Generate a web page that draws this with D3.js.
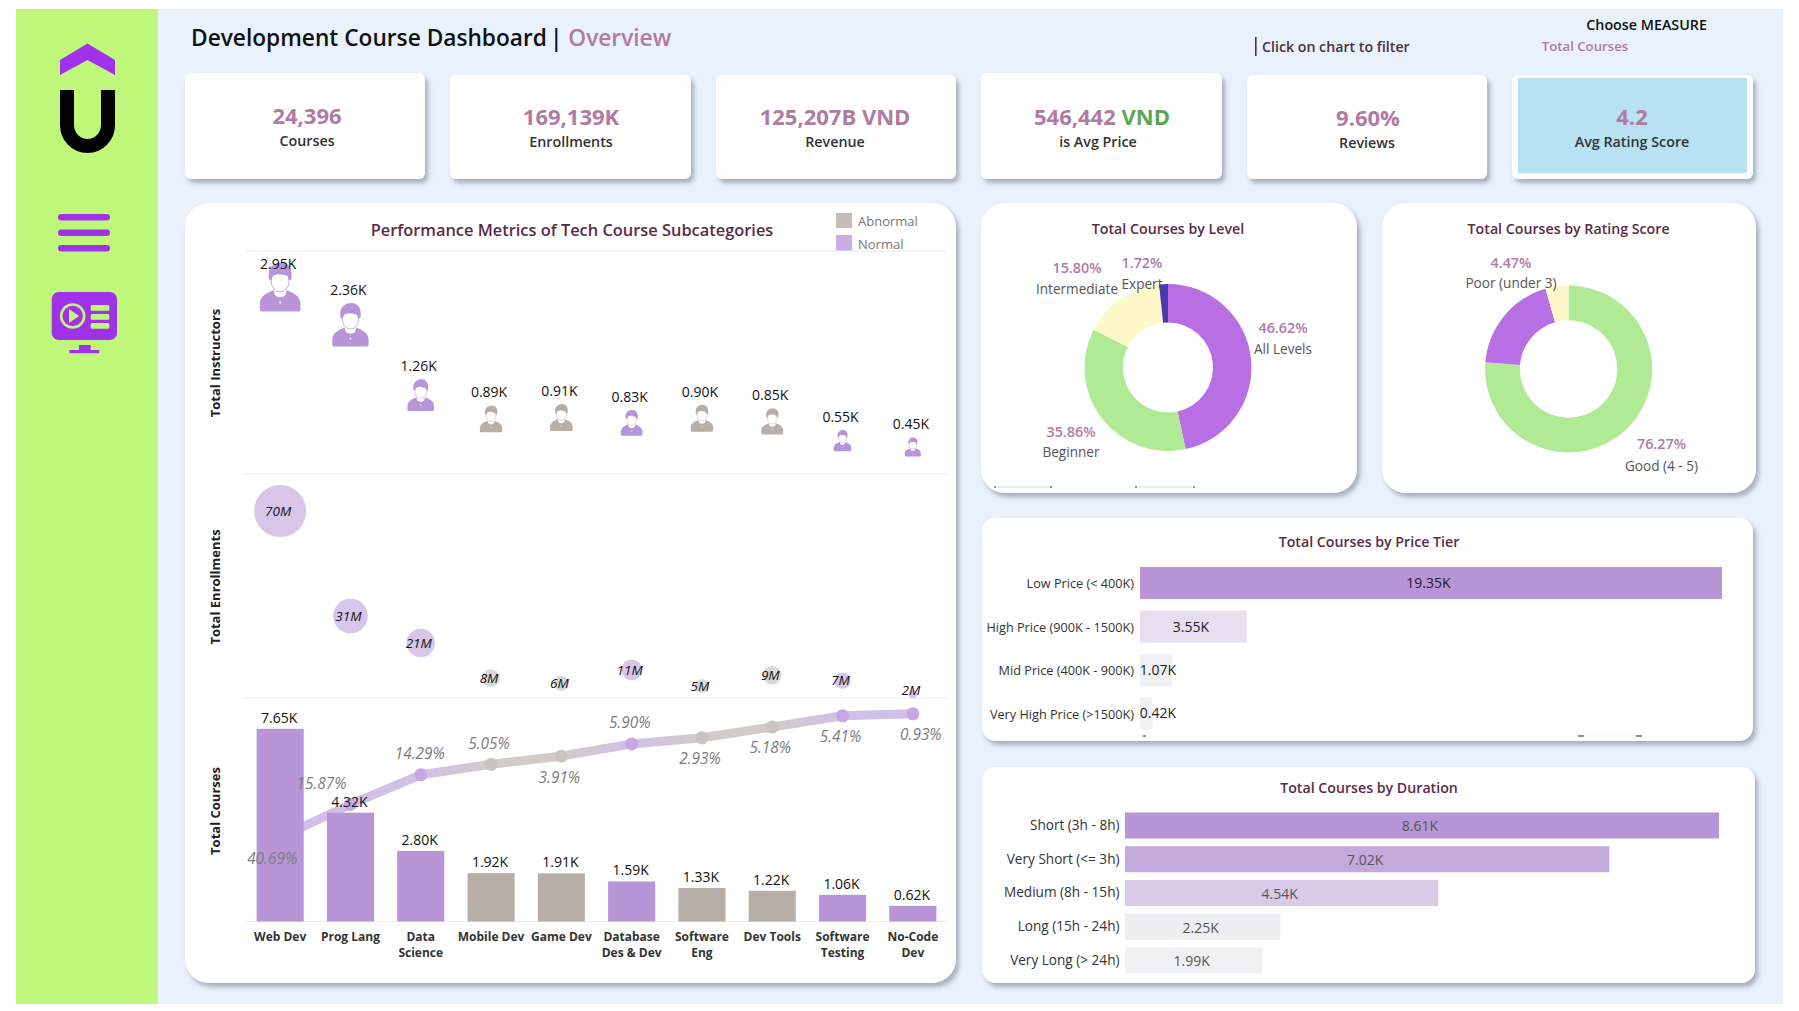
<!DOCTYPE html>
<html><head><meta charset="utf-8">
<script src="https://cdn.jsdelivr.net/npm/d3@7/dist/d3.min.js"></script>
<style>
html,body{margin:0;padding:0;background:#fff}
svg{display:block}
text{font-family:"Open Sans",sans-serif}
</style></head><body>
<svg id="c" width="1799" height="1011"></svg>
<script>
const subcategories=["Web Dev","Prog Lang","Data Science","Mobile Dev","Game Dev","Database Des & Dev","Software Eng","Dev Tools","Software Testing","No-Code Dev"];
const status=["Normal","Normal","Normal","Abnormal","Abnormal","Normal","Abnormal","Abnormal","Normal","Normal"];
const instructors=[2.95,2.36,1.26,0.89,0.91,0.83,0.90,0.85,0.55,0.45];
const enrollments=[70,31,21,8,6,11,5,9,7,2];
const courses=[7.65,4.32,2.80,1.92,1.91,1.59,1.33,1.22,1.06,0.62];
const coursePct=[40.69,15.87,14.29,5.05,3.91,5.90,2.93,5.18,5.41,0.93];
const levelNames=["All Levels","Beginner","Intermediate","Expert"];
const levelPct=[46.62,35.86,15.80,1.72];
const ratingNames=["Good (4 - 5)","Average (3 - 4)","Poor (under 3)"];
const ratingPct=[76.27,19.26,4.47];
const priceTiers=["Low Price (< 400K)","High Price (900K - 1500K)","Mid Price (400K - 900K)","Very High Price (>1500K)"];
const priceValues=[19.35,3.55,1.07,0.42];
const durations=["Short (3h - 8h)","Very Short (<= 3h)","Medium (8h - 15h)","Long (15h - 24h)","Very Long (> 24h)"];
const durationValues=[8.61,7.02,4.54,2.25,1.99];
const kpiValues=["24,396","169,139K","125,207B VND","546,442","9.60%","4.2"];
const kpiLabels=["Courses","Enrollments","Revenue","is Avg Price","Reviews","Avg Rating Score"];

const PINK="#b07aa1",TITLE="#5a2b47",NORMAL="#b795d6",ABN="#b8aea8";
const svg=d3.select("#c");
const defs=svg.append("defs");
const f=defs.append("filter").attr("id","sh").attr("x","-10%").attr("y","-10%").attr("width","125%").attr("height","125%");
f.append("feDropShadow").attr("dx",3).attr("dy",4).attr("stdDeviation",2.6).attr("flood-color","#6d7684").attr("flood-opacity",0.55);

function T(g,x,y,s,o={}){
  const t=g.append("text").attr("x",x).attr("y",y).attr("dy","0.35em").attr("text-anchor",o.a||"middle")
   .attr("font-size",o.s||13).attr("font-weight",o.w||400).attr("fill",o.c||"#333").text(s);
  if(o.i)t.attr("font-style","italic");
  return t;
}
// backgrounds
svg.append("rect").attr("x",158).attr("y",9).attr("width",1625).attr("height",995).attr("fill","#e9f2fc");
svg.append("rect").attr("x",16).attr("y",9).attr("width",142).attr("height",995).attr("fill","#bff77a");

// sidebar icons
const side=svg.append("g"),PUR="#a033ea";
side.append("path").attr("d","M60,75 V60 L87.5,43.5 L115,60 V75 L87.5,60 Z").attr("fill",PUR);
side.append("path").attr("d","M67,90 V125 A20.5,21 0 0 0 108,125 V90").attr("fill","none").attr("stroke","#000").attr("stroke-width",14);
[217.3,232.7,248.3].forEach(y=>side.append("rect").attr("x",58).attr("y",y-3.3).attr("width",52).attr("height",6.6).attr("rx",3.3).attr("fill",PUR));
side.append("rect").attr("x",51.7).attr("y",292).attr("width",65.3).attr("height",48).attr("rx",7).attr("fill",PUR);
side.append("circle").attr("cx",72.7).attr("cy",316).attr("r",11.5).attr("fill","none").attr("stroke","#bff77a").attr("stroke-width",2.6);
side.append("path").attr("d","M69,309 L79,316 L69,323 Z").attr("fill","#bff77a");
[305,314,323].forEach(y=>side.append("rect").attr("x",90.7).attr("y",y).attr("width",18.6).attr("height",5.8).attr("rx",1.5).attr("fill","#bff77a"));
side.append("rect").attr("x",79).attr("y",345).attr("width",11.7).attr("height",5).attr("fill",PUR);
side.append("rect").attr("x",69.3).attr("y",350).attr("width",30).attr("height",3.3).attr("rx",1).attr("fill",PUR);

// header
const head=svg.append("g");
const ttl=T(head,191,38,"Development Course Dashboard",{a:"start",s:22.7,w:600,c:"#111"});
ttl.append("tspan").attr("dx",3).text("| ");
ttl.append("tspan").attr("fill",PINK).text("Overview");
head.append("rect").attr("x",1255).attr("y",37).attr("width",1.6).attr("height",19).attr("fill",TITLE);
T(head,1262,47,"Click on chart to filter",{a:"start",s:14.2,w:600,c:"#4a3040"});
T(head,1646.6,25,"Choose MEASURE",{s:14.3,w:600,c:"#111"});
T(head,1585,46.5,"Total Courses",{s:13.2,w:600,c:PINK});

// cards
function card(x0,y0,x1,y1,r){
  return svg.append("rect").attr("x",x0).attr("y",y0).attr("width",x1-x0).attr("height",y1-y0).attr("rx",r).attr("fill","#fff").attr("filter","url(#sh)");
}
const kpiBox=[[185,73,425,179],[450,75,691,179],[716,75,956,179],[981,73,1222,179],[1247,75,1487,179],[1512,75,1753,179]];
const kpiCx=[307,571,835,1102,1368,1632],kpiVy=[116,117,117,117,118,117],kpiLx=[307,571,835,1098,1367,1632];
kpiBox.forEach((b,i)=>{
  card(b[0],b[1],b[2],b[3],6);
  if(i==5)svg.append("rect").attr("x",1518).attr("y",78).attr("width",229).attr("height",95).attr("fill","#b8e2f2");
  const t=T(svg,kpiCx[i],kpiVy[i],kpiValues[i],{s:22,w:700,c:PINK});
  if(i==3)t.append("tspan").attr("fill","#5aa84f").text(" VND");
  T(svg,kpiLx[i],kpiVy[i]+25,kpiLabels[i],{s:14.3,w:600,c:"#333"});
});
card(185,203,956,983,24);
card(981,203,1357,493,24);
card(1382,203,1756,493,24);
card(982,518,1753,741,14);
card(982,767,1755,983,14);

// ---- main chart
const main=svg.append("g");
T(main,572,230,"Performance Metrics of Tech Course Subcategories",{s:16.4,w:600,c:TITLE});
main.append("rect").attr("x",836).attr("y",213).attr("width",16).attr("height",15).attr("fill","#c5bcb8");
T(main,858,221,"Abnormal",{a:"start",s:13,c:"#777"});
main.append("rect").attr("x",836).attr("y",235).attr("width",16).attr("height",16).attr("fill","#c9ade4");
T(main,858,244,"Normal",{a:"start",s:13,c:"#777"});
[251,474,698,921.5].forEach(y=>main.append("line").attr("x1",245).attr("x2",948).attr("y1",y).attr("y2",y).attr("stroke","#e6edf6").attr("stroke-width",1.2));
[["Total Instructors",363],["Total Enrollments",587],["Total Courses",811]].forEach(a=>{
  main.append("text").attr("transform",`translate(215,${a[1]}) rotate(-90)`).attr("text-anchor","middle").attr("dy","0.35em")
   .attr("font-size",13).attr("font-weight",700).attr("fill","#222").text(a[0]);
});
const x=d3.scaleBand().domain(subcategories).range([245,948]).paddingInner(0.33).paddingOuter(0.165);
const cx=d=>x(d)+x.bandwidth()/2;
const col=i=>status[i]=="Normal"?NORMAL:ABN;

// instructors pictograms
const yI=d3.scaleLinear().domain([0,3]).range([475.8,283.8]);
const wI=d3.scaleSqrt().domain([0,2.95]).range([0,40.7]);
instructors.forEach((v,i)=>{
  const w=wI(v),h=w*1.2,c=col(i),k=w/100,cy=yI(v),mx=cx(subcategories[i]);
  const g=main.append("g").attr("transform",`translate(${mx},${cy}) scale(${k})`);
  g.append("path").attr("fill",c).attr("d","M-50,55 V42 C-50,22 -32,14 -16,8 L16,8 C32,14 50,22 50,42 V55 Q50,60 45,60 H-45 Q-50,60 -50,55 Z");
  g.append("path").attr("fill","#fff").attr("d","M-17,3 L-13,20 Q0,30 13,20 L17,3 Z");
  g.append("path").attr("fill",c).attr("d","M-27,-18 C-33,-48 -15,-60 3,-60 C22,-60 32,-42 27,-18 Z");
  g.append("ellipse").attr("cx",0).attr("cy",-14).attr("rx",22).attr("ry",26).attr("fill","#fff").attr("stroke",c).attr("stroke-width",2);
  g.append("path").attr("fill",c).attr("d","M-23,-22 C-18,-30 -6,-34 6,-30 C12,-28 18,-30 23,-22 L27,-40 L0,-58 L-27,-40 Z");
  g.append("circle").attr("cx",0).attr("cy",38).attr("r",2.5).attr("fill","#fff");
  T(main,mx-2,Math.max(cy-h/2-13,264),v.toFixed(2)+"K",{s:14,c:"#111"});
});

// enrollment bubbles
const yE=d3.scaleLinear().domain([0,70]).range([699.5,511]);
const rE=d3.scaleSqrt().domain([0,70]).range([0,26]);
enrollments.forEach((v,i)=>{
  main.append("circle").attr("cx",cx(subcategories[i])).attr("cy",yE(v)).attr("r",rE(v)).attr("fill",status[i]=="Normal"?"#d7c6ea":"#dcd8d5");
});
enrollments.forEach((v,i)=>{
  T(main,cx(subcategories[i])-2,yE(v)+(i==9?-3.5:0),v+"M",{s:13.5,i:1,c:"#111"});
});

// pareto line
const yC=d3.scaleLinear().domain([0,8]).range([921.5,720]);
const yP=d3.scaleLinear().domain([0,100]).range([922,714.2]);
const cum=Array.from(d3.cumsum(coursePct));
const lineColor=i=>status[i]=="Normal"?"#d2bfe8":"#d3cbc8";
const pts=cum.map((v,i)=>[cx(subcategories[i]),yP(v)]);
const seg=d3.line();
for(let i=0;i<pts.length-1;i++){
  const id="g"+i;
  const gr=defs.append("linearGradient").attr("id",id).attr("gradientUnits","userSpaceOnUse")
    .attr("x1",pts[i][0]).attr("y1",pts[i][1]).attr("x2",pts[i+1][0]).attr("y2",pts[i+1][1]);
  gr.append("stop").attr("offset",0).attr("stop-color",lineColor(i));
  gr.append("stop").attr("offset",1).attr("stop-color",lineColor(i+1));
  main.append("path").attr("d",seg([pts[i],pts[i+1]])).attr("fill","none").attr("stroke",`url(#${id})`).attr("stroke-width",9).attr("stroke-linecap","round");
}
pts.forEach((p,i)=>main.append("circle").attr("cx",p[0]).attr("cy",p[1]).attr("r",6.5).attr("fill",status[i]=="Normal"?"#c6a8e4":"#cbc3bf"));
// bars
courses.forEach((v,i)=>{
  const d=subcategories[i];
  main.append("rect").attr("x",x(d)).attr("y",yC(v)).attr("width",x.bandwidth()).attr("height",yC(0)-yC(v)).attr("fill",col(i));
});
courses.forEach((v,i)=>{
  T(main,cx(subcategories[i])-1,yC(v)-11,v.toFixed(2)+"K",{s:14,c:"#111"});
});
const side_=[1,-1,-1,-1,1,-1,1,1,1,1],nudge=[-8,-29,-1,-2,-2,-2,-2,-2,-2,8];
coursePct.forEach((v,i)=>{
  T(main,pts[i][0]+nudge[i],pts[i][1]+side_[i]*21,v.toFixed(2)+"%",{s:15.4,i:1,c:"#7d7d7d"});
});
// category axis
const axB=main.append("g").attr("transform","translate(0,921.5)").call(d3.axisBottom(x).tickSize(0));
axB.select(".domain").remove();
const lineBreak={"Data Science":["Data","Science"],"Database Des & Dev":["Database","Des & Dev"],"Software Eng":["Software","Eng"],"Software Testing":["Software","Testing"],"No-Code Dev":["No-Code","Dev"]};
axB.selectAll(".tick text").each(function(d){
  const t=d3.select(this).text(null).attr("y",16).attr("dy",0).attr("dominant-baseline","middle")
    .attr("font-size",12).attr("font-weight",700).attr("fill","#333").style("font-family",'"Open Sans",sans-serif');
  (lineBreak[d]||[d]).forEach((s,i)=>t.append("tspan").attr("x",0).attr("dy",i?16:0).text(s));
});

// donuts
function donut(cxv,cyv,R,r,vals,cols){
  const pie=d3.pie().sort(null)(vals);
  const arc=d3.arc().innerRadius(r).outerRadius(R);
  const g=svg.append("g").attr("transform",`translate(${cxv},${cyv})`);
  g.selectAll("path").data(pie).join("path").attr("d",arc).attr("fill",(d,i)=>cols[i]);
}
T(svg,1168,229,"Total Courses by Level",{s:14.2,w:600,c:TITLE});
donut(1168,367.5,83.5,45,levelPct,["#b76fe3","#b0ea95","#fff9c9","#4b3aaf"]);
const lvlLab=[[1283,328,349],[1071,432,452],[1077,268,289],[1142,263,284]];
levelNames.forEach((n,i)=>{
  const p=lvlLab[i];
  T(svg,p[0],p[1],levelPct[i].toFixed(2)+"%",{s:14.3,w:600,c:PINK});
  T(svg,p[0],p[2],n,{s:13.6,c:"#555"});
});
T(svg,1568.6,229,"Total Courses by Rating Score",{s:14.2,w:600,c:TITLE});
donut(1568.6,369,83.5,48.7,ratingPct,["#b0ea95","#b76fe3","#fff9c9"]);
const rtLab={0:[1661.5,444,466],2:[1511,263,283]};
[0,2].forEach(i=>{
  const p=rtLab[i];
  T(svg,p[0],p[1],ratingPct[i].toFixed(2)+"%",{s:14.3,w:600,c:PINK});
  T(svg,p[0],p[2],ratingNames[i],{s:13.6,c:"#555"});
});
// small clipped axis fragments
[[995,1051],[1136,1194]].forEach(a=>{
  svg.append("line").attr("x1",a[0]).attr("x2",a[1]).attr("y1",487).attr("y2",487).attr("stroke","#ddd");
  a.forEach(v=>svg.append("rect").attr("x",v-0.5).attr("y",486).attr("width",1).attr("height",2).attr("fill","#333"));
});

// price bars
T(svg,1369,542,"Total Courses by Price Tier",{s:14.2,w:600,c:TITLE});
const yPr=d3.scaleBand().domain(priceTiers).range([561.3,735.3]).paddingInner(0.264).paddingOuter(0.132);
const xPr=d3.scaleLinear().domain([0,19.35]).range([1140,1722]);
const prCol=["#b795d6","#e6dfee","#f0eff1","#f1f0f2"];
priceValues.forEach((v,i)=>{
  svg.append("rect").attr("x",xPr(0)).attr("y",yPr(priceTiers[i])).attr("width",xPr(v)-xPr(0)).attr("height",yPr.bandwidth()).attr("fill",prCol[i]);
  T(svg,Math.max((xPr(0)+xPr(v))/2-2.5,1158),yPr(priceTiers[i])+yPr.bandwidth()/2+(i==0?0:i==1?1:0),v.toFixed(2)+"K",{s:14,c:"#222"});
});
function catAxis(scale,px,size,dy){
  const a=svg.append("g").attr("transform",`translate(${px},${dy})`).call(d3.axisLeft(scale).tickSize(0).tickPadding(0));
  a.select(".domain").remove();
  a.selectAll(".tick text").attr("font-size",size).attr("fill","#333").style("font-family",'"Open Sans",sans-serif');
}
catAxis(yPr,1134,12.7,1);
[[1143,1146],[1578,1584],[1636,1642]].forEach(a=>svg.append("line").attr("x1",a[0]).attr("x2",a[1]).attr("y1",736).attr("y2",736).attr("stroke","#222"));
svg.append("line").attr("x1",1584).attr("x2",1636).attr("y1",736).attr("y2",736).attr("stroke","#eee");

// duration bars
T(svg,1369,788,"Total Courses by Duration",{s:14.2,w:600,c:TITLE});
const yD=d3.scaleBand().domain(durations).range([808.6,977.4]).paddingInner(0.23).paddingOuter(0.115);
const xD=d3.scaleLinear().domain([0,8.61]).range([1125,1719]);
const dCol=["#b795d6","#c3a9dc","#d9cbe8","#eeeef0","#f0f0f2"];
durationValues.forEach((v,i)=>{
  svg.append("rect").attr("x",xD(0)).attr("y",yD(durations[i])).attr("width",xD(v)-xD(0)).attr("height",yD.bandwidth()).attr("fill",dCol[i]);
  T(svg,(xD(0)+xD(v))/2-2,yD(durations[i])+yD.bandwidth()/2+1,v.toFixed(2)+"K",{s:14,c:"#555"});
});
catAxis(yD,1119.5,13.6,0);
</script>
</body></html>
